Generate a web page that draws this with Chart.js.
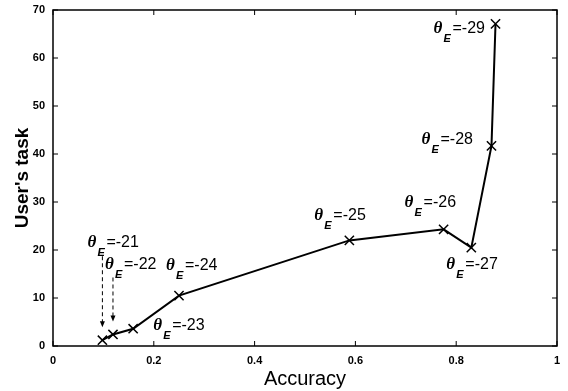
<!DOCTYPE html>
<html>
<head>
<meta charset="utf-8">
<script src="https://cdn.jsdelivr.net/npm/chart.js@4"></script>
<style>
  html, body { margin: 0; padding: 0; background: #fff; }
  #wrap { width: 568px; height: 391px; }
</style>
</head>
<body>
<div id="wrap"><canvas id="chart" width="568" height="391"></canvas></div>
<script>
// data
const accuracy = [0.098, 0.119, 0.159, 0.25, 0.588, 0.775, 0.83, 0.87, 0.878];
const usersTask = [1.2, 2.4, 3.6, 10.5, 22.0, 24.3, 20.5, 41.7, 67.1];
const thetaLabels = ["-21", "-22", "-23", "-24", "-25", "-26", "-27", "-28", "-29"];
const xTicks = [0, 0.2, 0.4, 0.6, 0.8, 1];
const yTicks = [0, 10, 20, 30, 40, 50, 60, 70];

// where each label sits relative to its point (px)
const labelOffsets = [[-15, -93], [-8, -65], [20, 1], [-13, -26], [-35, -20], [-39, -22], [-25, 21], [-70, -2], [-62, 9]];
// dashed arrows for the two crowded points: [index, top y offset from label baseline]
const arrows = [[0, 9], [1, 8]];

const annotate = {
  id: "annotate",
  afterDraw(chart) {
    const ctx = chart.ctx;
    const area = chart.chartArea;
    const xs = chart.scales.x, ys = chart.scales.y;
    ctx.save();
    // box
    ctx.strokeStyle = "#000";
    ctx.lineWidth = 1.5;
    ctx.strokeRect(area.left, area.top, area.right - area.left, area.bottom - area.top);
    // inward ticks
    ctx.lineWidth = 1;
    xTicks.forEach(v => {
      const px = xs.getPixelForValue(v);
      ctx.beginPath();
      ctx.moveTo(px, area.bottom); ctx.lineTo(px, area.bottom - 5);
      ctx.moveTo(px, area.top); ctx.lineTo(px, area.top + 5);
      ctx.stroke();
    });
    yTicks.forEach(v => {
      const py = ys.getPixelForValue(v);
      ctx.beginPath();
      ctx.moveTo(area.left, py); ctx.lineTo(area.left + 5, py);
      ctx.moveTo(area.right, py); ctx.lineTo(area.right - 5, py);
      ctx.stroke();
    });
    // theta labels
    ctx.fillStyle = "#000";
    ctx.textBaseline = "alphabetic";
    ctx.textAlign = "left";
    const pts = accuracy.map((a, i) => [xs.getPixelForValue(a), ys.getPixelForValue(usersTask[i])]);
    thetaLabels.forEach((t, i) => {
      const x = pts[i][0] + labelOffsets[i][0];
      const y = pts[i][1] + labelOffsets[i][1];
      ctx.font = "italic bold 17px 'Liberation Serif'";
      ctx.fillText("\u03B8", x, y);
      ctx.font = "italic bold 11px 'Liberation Sans'";
      ctx.fillText("E", x + 10, y + 9);
      ctx.font = "16px 'Liberation Sans'";
      ctx.fillText("=" + t, x + 19, y);
    });
    // dashed arrows
    ctx.lineWidth = 1;
    arrows.forEach(([i, top]) => {
      const x = pts[i][0];
      const y0 = pts[i][1] + labelOffsets[i][1] + top;
      const y1 = pts[i][1] - 13;
      ctx.setLineDash([4, 3]);
      ctx.beginPath();
      ctx.moveTo(x, y0); ctx.lineTo(x, y1 - 5);
      ctx.stroke();
      ctx.setLineDash([]);
      ctx.beginPath();
      ctx.moveTo(x - 2.5, y1 - 6); ctx.lineTo(x + 2.5, y1 - 6); ctx.lineTo(x, y1);
      ctx.closePath();
      ctx.fill();
    });
    ctx.restore();
  }
};

new Chart(document.getElementById("chart"), {
  type: "line",
  data: {
    datasets: [{
      data: accuracy.map((a, i) => ({ x: a, y: usersTask[i] })),
      borderColor: "#000",
      borderWidth: 2,
      pointStyle: "crossRot",
      pointRadius: 6.5,
      pointBorderWidth: 1.5,
      pointBorderColor: "#000",
      fill: false,
      tension: 0
    }]
  },
  options: {
    responsive: false,
    animation: false,
    layout: { padding: { top: 10, right: 11, left: 0, bottom: 0 } },
    plugins: { legend: { display: false }, tooltip: { enabled: false } },
    scales: {
      x: {
        type: "linear",
        min: 0, max: 1,
        afterBuildTicks: s => { s.ticks = xTicks.map(v => ({ value: v })); },
        afterFit: s => { s.height = 45; s.paddingLeft = 0; s.paddingRight = 0; },
        grid: { display: false, drawTicks: false },
        border: { display: false },
        ticks: {
          color: "#000",
          padding: 8,
          font: { family: "'Liberation Sans'", size: 11, weight: "bold" },
          callback: v => String(v)
        },
        title: {
          display: true,
          text: "Accuracy",
          color: "#000",
          padding: { top: 2, bottom: 0 },
          font: { family: "'Liberation Sans'", size: 20 }
        }
      },
      y: {
        type: "linear",
        min: 0, max: 70,
        afterBuildTicks: s => { s.ticks = yTicks.map(v => ({ value: v })); },
        afterFit: s => { s.width = 53; s.paddingTop = 0; s.paddingBottom = 0; },
        grid: { display: false, drawTicks: false },
        border: { display: false },
        ticks: {
          color: "#000",
          padding: 8,
          font: { family: "'Liberation Sans'", size: 11, weight: "bold" }
        },
        title: {
          display: true,
          text: "User's task",
          color: "#000",
          padding: { top: 11, bottom: 4 },
          font: { family: "'Liberation Sans'", size: 19, weight: "bold" }
        }
      }
    }
  },
  plugins: [annotate]
});
</script>
</body>
</html>
